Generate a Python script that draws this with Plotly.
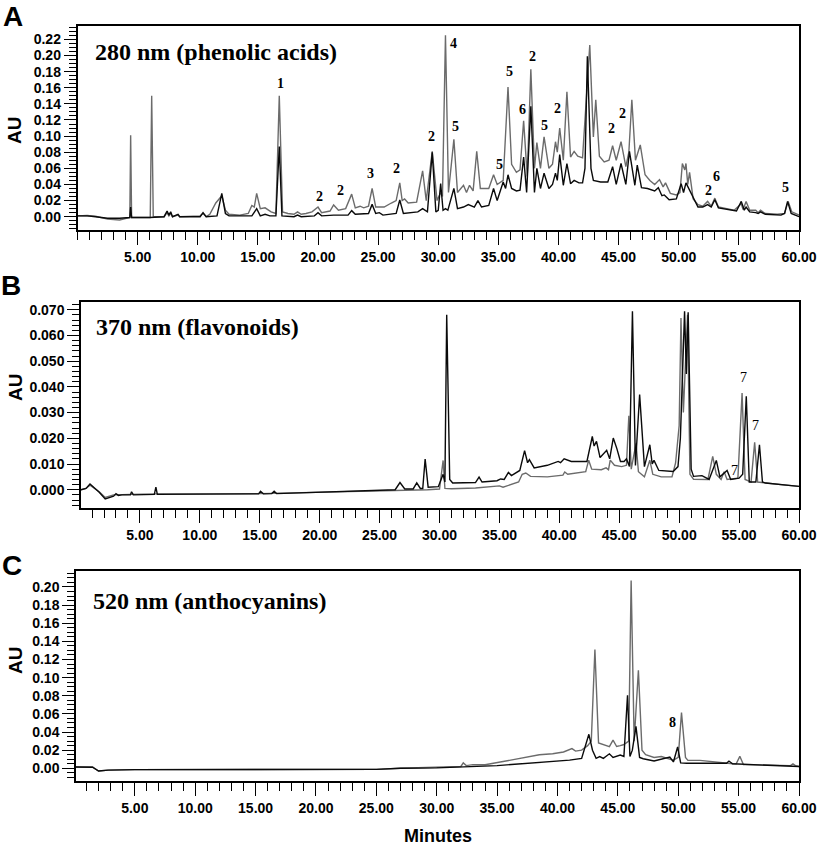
import plotly.graph_objects as go

# ---------------- data (minutes, AU) ----------------
A_GRAY = [(0.0, 0.001), (0.8, 0.0015), (1.5, 0.0005), (2.5, -0.003), (3.5, -0.004), (4.2, -0.002),
          (4.35, -0.001), (4.42, 0.101), (4.5, -0.001), (5.5, -0.001), (6.05, -0.001), (6.17, 0.150),
          (6.3, 0.0), (7.2, 0.0), (7.45, 0.005), (7.6, 0.001), (7.75, 0.004), (7.9, 0.0), (8.36, 0.002),
          (8.5, 0.0), (10.2, 0.001), (10.44, 0.004), (10.7, 0.0), (11.0, 0.003), (11.5, 0.017),
          (12.0, 0.026), (12.3, 0.008), (12.6, 0.003), (13.5, 0.002), (14.2, 0.004), (14.5, 0.014),
          (14.7, 0.012), (14.9, 0.029), (15.2, 0.010), (15.6, 0.011), (16.1, 0.006), (16.5, 0.004),
          (16.78, 0.150), (17.05, 0.006), (17.5, 0.004), (18.0, 0.003), (18.3, 0.006), (18.6, 0.003),
          (19.0, 0.004), (19.5, 0.006), (20.0, 0.012), (20.3, 0.005), (21.0, 0.007), (21.3, 0.0145),
          (21.7, 0.008), (22.3, 0.010), (22.8, 0.028), (23.1, 0.011), (23.5, 0.013), (23.8, 0.011),
          (24.2, 0.013), (24.5, 0.035), (24.8, 0.012), (25.5, 0.012), (26.1, 0.017), (26.5, 0.020),
          (26.8, 0.042), (27.0, 0.020), (27.2, 0.022), (27.5, 0.017), (28.2, 0.018), (28.7, 0.057),
          (29.0, 0.020), (29.5, 0.081), (29.9, 0.020), (30.2, 0.030), (30.35, 0.025), (30.6, 0.225),
          (30.85, 0.030), (31.3, 0.096), (31.6, 0.030), (32.1, 0.039), (32.35, 0.030), (32.6, 0.039),
          (32.9, 0.032), (33.2, 0.081), (33.5, 0.035), (34.2, 0.035), (34.6, 0.052), (34.9, 0.040),
          (35.4, 0.045), (35.8, 0.161), (36.1, 0.065), (36.5, 0.055), (36.8, 0.058), (37.1, 0.119),
          (37.4, 0.050), (37.7, 0.183), (38.0, 0.060), (38.2, 0.092), (38.5, 0.060), (38.8, 0.099),
          (39.2, 0.060), (39.5, 0.065), (39.75, 0.093), (39.9, 0.080), (40.1, 0.110), (40.4, 0.070),
          (40.7, 0.155), (41.0, 0.074), (41.3, 0.081), (41.6, 0.075), (42.0, 0.073), (42.35, 0.150),
          (42.6, 0.213), (42.9, 0.099), (43.1, 0.145), (43.4, 0.075), (43.8, 0.068), (44.2, 0.070),
          (44.5, 0.088), (44.8, 0.070), (45.2, 0.093), (45.6, 0.062), (45.85, 0.080), (46.1, 0.145),
          (46.4, 0.070), (46.8, 0.089), (47.2, 0.052), (47.6, 0.045), (48.0, 0.040), (48.4, 0.046),
          (48.7, 0.037), (48.9, 0.042), (49.3, 0.029), (49.8, 0.027), (50.1, 0.030), (50.3, 0.066),
          (50.5, 0.058), (50.6, 0.066), (50.75, 0.040), (50.9, 0.055), (51.2, 0.022), (51.6, 0.015),
          (52.0, 0.013), (52.4, 0.019), (52.7, 0.013), (53.0, 0.023), (53.3, 0.012), (54.0, 0.010),
          (54.6, 0.008), (55.2, 0.016), (55.35, 0.009), (55.6, 0.019), (55.9, 0.008), (56.4, 0.008),
          (56.6, 0.005), (56.8, 0.008), (57.2, 0.004), (58.2, 0.003), (58.8, 0.004), (59.1, 0.019),
          (59.4, 0.006), (60.0, 0.002)]

A_BLACK = [(0.0, 0.001), (0.8, 0.001), (1.5, 0.0), (2.5, -0.002), (3.5, -0.002), (4.35, -0.001),
           (4.42, 0.012), (4.5, -0.001), (6.0, -0.001), (7.2, 0.0), (7.45, 0.007), (7.6, 0.002),
           (7.75, 0.006), (7.9, 0.0), (8.36, 0.003), (8.5, 0.0), (10.2, 0.0), (10.44, 0.005), (10.7, 0.0),
           (11.6, 0.001), (12.0, 0.029), (12.3, 0.004), (12.6, 0.001), (14.5, 0.001), (14.9, 0.010),
           (15.2, 0.001), (15.6, 0.003), (16.0, 0.001), (16.5, 0.001), (16.78, 0.087), (17.0, 0.001),
           (18.0, 0.0), (18.3, 0.002), (18.6, 0.0), (19.7, 0.001), (20.0, 0.005), (20.3, 0.001),
           (21.3, 0.002), (22.5, 0.002), (22.8, 0.0075), (23.1, 0.003), (24.2, 0.004), (24.5, 0.0153),
           (24.8, 0.004), (25.1, 0.005), (25.4, 0.002), (26.5, 0.004), (26.8, 0.0207), (27.1, 0.004),
           (28.3, 0.006), (28.7, 0.010), (29.1, 0.006), (29.5, 0.080), (29.8, 0.006), (30.0, 0.008),
           (30.2, 0.041), (30.4, 0.008), (30.6, 0.010), (30.8, 0.008), (31.3, 0.035), (31.6, 0.010),
           (32.1, 0.012), (32.5, 0.015), (33.0, 0.012), (33.3, 0.020), (33.6, 0.012), (34.2, 0.014),
           (34.6, 0.035), (34.9, 0.020), (35.4, 0.043), (35.6, 0.035), (35.8, 0.052), (36.1, 0.035),
           (36.5, 0.032), (36.8, 0.033), (37.1, 0.074), (37.35, 0.030), (37.7, 0.137), (38.0, 0.030),
           (38.2, 0.060), (38.5, 0.035), (38.8, 0.054), (39.2, 0.035), (39.5, 0.040), (39.75, 0.054),
           (39.9, 0.045), (40.1, 0.077), (40.4, 0.039), (40.7, 0.066), (41.0, 0.041), (41.3, 0.045),
           (41.7, 0.042), (42.0, 0.042), (42.2, 0.060), (42.4, 0.199), (42.7, 0.060), (42.9, 0.045),
           (43.5, 0.043), (44.1, 0.043), (44.5, 0.062), (44.8, 0.040), (45.2, 0.066), (45.6, 0.040),
           (45.9, 0.081), (46.35, 0.039), (46.55, 0.064), (46.9, 0.036), (47.4, 0.035), (48.0, 0.032),
           (48.3, 0.036), (48.6, 0.026), (48.8, 0.027), (49.2, 0.021), (49.8, 0.022), (50.2, 0.041),
           (50.4, 0.030), (50.6, 0.042), (50.8, 0.036), (51.3, 0.019), (51.6, 0.012), (52.0, 0.012),
           (52.4, 0.015), (52.7, 0.012), (53.0, 0.021), (53.3, 0.011), (54.0, 0.009), (54.8, 0.007),
           (55.2, 0.019), (55.45, 0.008), (55.6, 0.012), (55.9, 0.006), (56.4, 0.005), (56.6, 0.004),
           (56.8, 0.006), (57.2, 0.003), (58.5, 0.002), (58.8, 0.004), (59.05, 0.019), (59.35, 0.004),
           (60.0, 0.0)]

B_GRAY = [(0.08, 0.0), (0.5, 0.0005), (0.83, 0.0018), (1.2, 0.0006), (1.6, -0.0008), (2.1, -0.003),
          (2.8, -0.002), (4.2, -0.0018), (6.2, -0.0016), (15.0, -0.0015), (20.0, -0.001), (25.0, -0.0003),
          (29.0, 0.0), (30.0, 0.0003), (30.3, 0.0114), (30.45, 0.0005), (31.0, 0.0004), (33.0, 0.0007),
          (35.0, 0.0015), (35.3, 0.001), (36.0, 0.0022), (36.6, 0.003), (36.9, 0.006), (37.2, 0.0065),
          (37.6, 0.0052), (39.0, 0.005), (40.3, 0.0057), (40.45, 0.0069), (40.7, 0.006), (42.2, 0.007),
          (42.45, 0.0115), (42.7, 0.008), (43.5, 0.0078), (43.9, 0.0085), (44.1, 0.0078), (44.25, 0.0115),
          (44.6, 0.0095), (45.2, 0.009), (45.6, 0.0095), (45.8, 0.0288), (46.0, 0.008), (46.4, 0.018),
          (46.6, 0.007), (47.1, 0.005), (47.55, 0.0115), (47.8, 0.006), (48.5, 0.005), (49.4, 0.005),
          (49.7, 0.0104), (50.0, 0.025), (50.15, 0.0668), (50.35, 0.03), (50.7, 0.068), (50.9, 0.006),
          (51.2, 0.0041), (52.4, 0.004), (52.8, 0.013), (53.1, 0.006), (53.5, 0.004), (53.75, 0.007),
          (54.0, 0.004), (54.9, 0.0045), (55.25, 0.0376), (55.5, 0.004), (56.0, 0.003), (56.3, 0.0184),
          (56.55, 0.003), (57.2, 0.0026), (58.5, 0.002), (60.0, 0.0013)]

B_BLACK = [(0.08, 0.0), (0.5, 0.0005), (0.83, 0.0022), (1.2, 0.0008), (1.6, -0.001), (2.1, -0.0036),
           (2.8, -0.0025), (3.0, -0.0015), (3.2, -0.0022), (3.5, -0.002), (4.2, -0.002), (4.3, -0.0008),
           (4.45, -0.002), (6.2, -0.0018), (6.33, 0.001), (6.45, -0.0018), (14.9, -0.0016),
           (15.06, -0.0006), (15.3, -0.0016), (16.0, -0.0015), (16.2, -0.0006), (16.4, -0.0015),
           (20.0, -0.001), (24.0, -0.0002), (25.5, 0.0), (26.3, 0.0), (26.7, 0.0028), (27.1, 0.0003),
           (27.8, 0.0003), (28.1, 0.0027), (28.4, 0.0005), (28.6, 0.0005), (28.8, 0.0119), (29.05, 0.001),
           (29.9, 0.0012), (30.3, 0.006), (30.45, 0.003), (30.6, 0.068), (30.85, 0.004), (31.1, 0.0026),
           (33.0, 0.0028), (33.3, 0.0049), (33.55, 0.003), (34.8, 0.0035), (35.1, 0.0042), (35.4, 0.004),
           (35.75, 0.0067), (36.0, 0.0055), (36.7, 0.0075), (37.1, 0.0152), (37.35, 0.0105),
           (37.5, 0.0117), (37.9, 0.0085), (39.0, 0.0095), (39.9, 0.011), (40.1, 0.0105), (40.4, 0.012),
           (41.0, 0.011), (42.3, 0.011), (42.5, 0.016), (42.75, 0.0207), (42.9, 0.017), (43.1, 0.0188),
           (43.4, 0.0125), (43.95, 0.0153), (44.2, 0.012), (44.5, 0.0201), (44.8, 0.016), (45.1, 0.011),
           (45.4, 0.011), (45.6, 0.012), (45.85, 0.009), (46.1, 0.0694), (46.35, 0.0094), (46.7, 0.037),
           (47.1, 0.009), (47.55, 0.0175), (47.75, 0.010), (47.9, 0.0114), (48.3, 0.0075), (49.5, 0.0071),
           (49.9, 0.009), (50.1, 0.02), (50.45, 0.0694), (50.6, 0.045), (50.75, 0.069), (51.0, 0.008),
           (51.2, 0.0052), (51.9, 0.0055), (52.5, 0.004), (53.1, 0.0114), (53.4, 0.005), (54.0, 0.0075),
           (54.3, 0.004), (55.0, 0.0045), (55.3, 0.006), (55.6, 0.0363), (55.85, 0.003), (56.4, 0.003),
           (56.7, 0.0175), (56.95, 0.003), (57.2, 0.0026), (58.5, 0.002), (60.0, 0.0013)]

C_GRAY = [(0.13, 0.0015), (1.5, 0.0015), (2.0, -0.003), (2.8, -0.002), (5.0, -0.0015), (25.0, -0.0012),
          (27.0, 0.0), (30.0, 0.001), (32.0, 0.002), (32.2, 0.006), (32.45, 0.003), (33.0, 0.004),
          (34.0, 0.004), (35.5, 0.0075), (36.8, 0.0107), (38.5, 0.015), (39.6, 0.016), (40.5, 0.018),
          (41.2, 0.0217), (41.5, 0.019), (42.0, 0.020), (42.5, 0.025), (42.8, 0.03), (43.1, 0.131),
          (43.4, 0.028), (43.9, 0.026), (44.3, 0.024), (44.6, 0.031), (44.9, 0.024), (45.2, 0.025),
          (45.45, 0.026), (45.7, 0.028), (45.9, 0.03), (46.1, 0.207), (46.35, 0.03), (46.7, 0.108),
          (47.0, 0.02), (47.3, 0.015), (48.0, 0.012), (48.6, 0.013), (49.2, 0.011), (49.6, 0.009),
          (50.0, 0.012), (50.27, 0.0614), (50.6, 0.012), (50.8, 0.0088), (51.8, 0.0088), (53.2, 0.0065),
          (54.5, 0.005), (54.8, 0.005), (55.1, 0.0132), (55.4, 0.004), (57.4, 0.0033), (59.3, 0.003),
          (59.5, 0.005), (59.7, 0.003), (60.0, 0.002)]

C_BLACK = [(0.13, 0.0015), (1.5, 0.0012), (2.0, -0.003), (2.8, -0.002), (5.0, -0.0015), (25.0, -0.0012),
           (27.0, 0.0), (30.0, 0.0005), (35.0, 0.003), (38.0, 0.006), (41.0, 0.009), (42.0, 0.011),
           (42.3, 0.025), (42.6, 0.0375), (42.9, 0.02), (43.2, 0.011), (43.5, 0.013), (43.8, 0.011),
           (44.3, 0.016), (44.6, 0.012), (45.2, 0.0146), (45.5, 0.013), (45.8, 0.0805), (46.0, 0.013),
           (46.2, 0.02), (46.5, 0.0463), (46.8, 0.012), (47.1, 0.0105), (48.0, 0.008), (49.3, 0.0125),
           (49.6, 0.007), (49.95, 0.0235), (50.2, 0.006), (50.7, 0.0055), (53.2, 0.0055), (54.0, 0.0055),
           (54.2, 0.008), (54.5, 0.005), (57.4, 0.0033), (60.0, 0.002)]

# peak identification labels: (text, minutes, AU)
A_LABELS = [("1", 16.9, 0.165), ("2", 20.1, 0.025), ("2", 21.9, 0.033), ("3", 24.4, 0.053),
            ("2", 26.5, 0.060), ("2", 29.45, 0.100), ("4", 31.3, 0.215), ("5", 31.4, 0.112),
            ("5", 35.9, 0.180), ("2", 37.8, 0.199), ("6", 37.0, 0.133), ("5", 38.8, 0.113),
            ("2", 39.9, 0.134), ("5", 35.1, 0.065), ("2", 44.4, 0.109), ("2", 45.3, 0.128),
            ("2", 52.5, 0.033), ("6", 53.1, 0.050), ("5", 58.9, 0.036)]
B_LABELS = [("7", 55.4, 0.0438), ("7", 56.4, 0.0249), ("7", 54.6, 0.0074)]
C_LABELS = [("8", 49.5, 0.050)]

PANEL_TITLES = ["280 nm (phenolic acids)", "370 nm (flavonoids)", "520 nm (anthocyanins)"]
PANEL_LETTERS = ["A", "B", "C"]
X_TICKS = [5, 10, 15, 20, 25, 30, 35, 40, 45, 50, 55, 60]
X_TITLE = "Minutes"
Y_TITLE = "AU"

# ---------------- figure ----------------
W, H = 822, 849
GRAY = "#6b6b6b"
BLACK = "#0a0a0a"

def px(x):
    return x / W

def py(y):
    return 1 - y / H

panels = [
    # (gray, black, labels, xaxis id, yaxis id, left, right, top, bottom, xrange, yrange, ydtick, yminor, yfmt)
    (A_GRAY, A_BLACK, A_LABELS, "x", "y", 77.5, 799, 26, 230, [0.0, 60.0], [-0.0165, 0.2366], 0.02, 0.005, ".2f"),
    (B_GRAY, B_BLACK, B_LABELS, "x2", "y2", 81, 799, 302, 508, [0.08, 60.0], [-0.0071, 0.0730], 0.01, 0.002, ".3f"),
    (C_GRAY, C_BLACK, C_LABELS, "x3", "y3", 76, 799, 571, 781, [0.13, 60.0], [-0.014, 0.2176], 0.02, 0.005, ".2f"),
]

fig = go.Figure()
layout = dict(width=W, height=H, margin=dict(l=0, r=0, t=0, b=0, autoexpand=False),
              paper_bgcolor="white", plot_bgcolor="white", showlegend=False)
annotations = []
tickfont = dict(family="Liberation Sans, Arial", size=14, color="black", weight="bold")
serif = "Liberation Serif, Times New Roman"

letter_pos = [(13, 16), (11, 286), (12, 565)]
au_pos = [(15, 130), (15, 387), (15, 660)]
title_pos = [(94, 52), (95, 327), (92, 601)]

def paper_note(x, y, text, font, xanchor="center", angle=0):
    return dict(x=px(x), y=py(y), xref="paper", yref="paper", text=text, showarrow=False,
                xanchor=xanchor, yanchor="middle", textangle=angle, borderpad=0, font=font)

for i, (g, b, labels, xa, ya, l, r, t, bo, xr, yr, ydt, ymin, yfmt) in enumerate(panels):
    for series, col, w in ((g, GRAY, 1.4), (b, BLACK, 1.4)):
        fig.add_trace(go.Scatter(x=[p[0] for p in series], y=[p[1] for p in series], mode="lines",
                                 line=dict(color=col, width=w), xaxis=xa, yaxis=ya, hoverinfo="skip"))
    xkey = "xaxis" if xa == "x" else "xaxis" + xa[1:]
    ykey = "yaxis" if ya == "y" else "yaxis" + ya[1:]
    layout[xkey] = dict(domain=[px(l), px(r)], anchor=ya, range=xr, showgrid=False, zeroline=False,
                        automargin=False,
                        showline=True, linecolor="black", linewidth=1.5, mirror=True,
                        tickmode="array", tickvals=X_TICKS, ticktext=[f"{v:.2f}" for v in X_TICKS],
                        ticks="outside", ticklen=13, tickwidth=1.3, tickcolor="black",
                        minor=dict(ticks="outside", tick0=0, dtick=1, ticklen=8, tickwidth=1.1, tickcolor="black"),
                        tickfont=tickfont, ticklabelstandoff=0)
    layout[ykey] = dict(domain=[py(bo), py(t)], anchor=xa, range=yr, showgrid=False, zeroline=False,
                        automargin=False,
                        showline=True, linecolor="black", linewidth=1.5, mirror=True,
                        tickmode="linear", tick0=0, dtick=ydt, tickformat=yfmt,
                        ticks="outside", ticklen=12, tickwidth=1.3, tickcolor="black",
                        minor=dict(ticks="outside", tick0=0, dtick=ymin, ticklen=7, tickwidth=1, tickcolor="black"),
                        tickfont=tickfont)
    for txt, tx, ty in labels:
        annotations.append(dict(x=tx, y=ty, xref=xa, yref=ya, text=txt, showarrow=False, borderpad=0,
                                xanchor="center", yanchor="middle",
                                font=dict(family=serif, size=14, color="black",
                                          weight="normal" if txt == "7" else "bold")))
    lx, ly = letter_pos[i]
    annotations.append(paper_note(lx, ly, PANEL_LETTERS[i],
                                  dict(family="Liberation Sans, Arial", size=28, color="black", weight="bold")))
    ax_, ay_ = au_pos[i]
    annotations.append(paper_note(ax_, ay_, Y_TITLE,
                                  dict(family="Liberation Sans, Arial", size=19, color="black", weight="bold"),
                                  angle=-90))
    tx_, ty_ = title_pos[i]
    annotations.append(paper_note(tx_, ty_, PANEL_TITLES[i],
                                  dict(family=serif, size=24, color="black", weight="bold"), xanchor="left"))

annotations.append(paper_note(438, 836, X_TITLE,
                              dict(family="Liberation Sans, Arial", size=18, color="black", weight="bold")))
layout["annotations"] = annotations
fig.update_layout(**layout)
fig.write_html("out.html", config={"displayModeBar": False},
               post_script="document.body.style.margin='0';document.body.style.padding='0';")
